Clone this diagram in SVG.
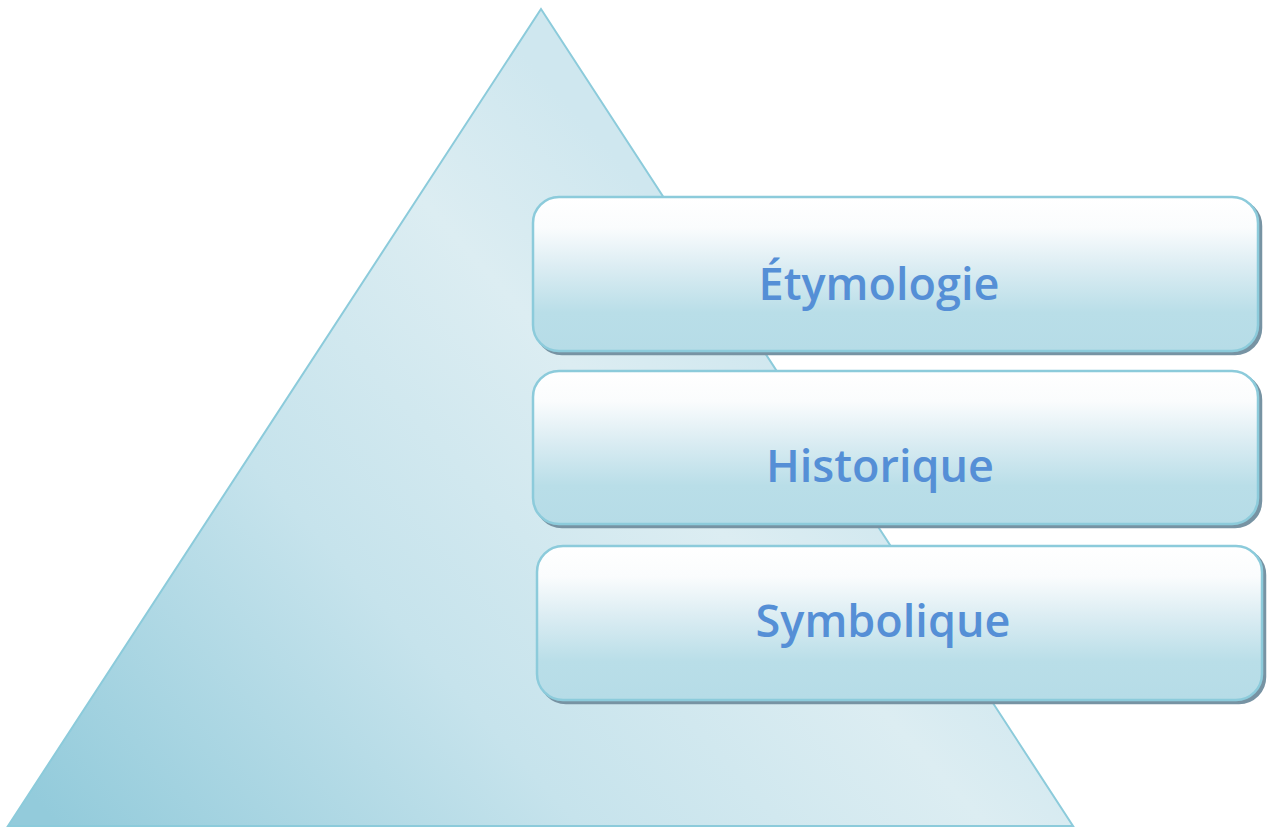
<svg xmlns="http://www.w3.org/2000/svg" width="1269" height="827" viewBox="0 0 1269 827">
<defs>
<linearGradient id="triG" gradientUnits="userSpaceOnUse" x1="60" y1="827" x2="700" y2="250">
<stop offset="0" stop-color="#93cbdb"/>
<stop offset="0.45" stop-color="#c6e3ec"/>
<stop offset="0.8" stop-color="#dcedf2"/>
<stop offset="1" stop-color="#cfe7ef"/>
</linearGradient>
<linearGradient id="boxG" x1="0" y1="0" x2="0" y2="1">
<stop offset="0" stop-color="#ffffff"/>
<stop offset="0.2" stop-color="#fafcfd"/>
<stop offset="0.45" stop-color="#dcedf3"/>
<stop offset="0.75" stop-color="#b9dee8"/>
<stop offset="1" stop-color="#b6dce7"/>
</linearGradient>
<filter id="sh" x="-5%" y="-5%" width="110%" height="115%">
<feOffset dx="3" dy="3" in="SourceAlpha" result="o"/>
<feFlood flood-color="#7793a3"/>
<feComposite in2="o" operator="in"/>
<feMerge><feMergeNode/><feMergeNode in="SourceGraphic"/></feMerge>
</filter>
</defs>
<style>
.box{fill:url(#boxG);stroke:#8ccbdb;stroke-width:2.5}
.lbl{font-family:"Open Sans","Noto Sans","DejaVu Sans",sans-serif;font-weight:600;font-size:45px;fill:#558fd6;text-anchor:middle}
</style>
<g id="pyramid">
<polygon points="541,9 8,826 1073,826" fill="url(#triG)" stroke="#8ccbdb" stroke-width="2"/>
</g>
<g id="connectors"/>
<g id="node-etymologie">
<rect class="box" x="533" y="197" width="725" height="154" rx="26" filter="url(#sh)"/>
<text class="lbl" x="879" y="300">Étymologie</text>
</g>
<g id="node-historique">
<rect class="box" x="533" y="371" width="725" height="153" rx="26" filter="url(#sh)"/>
<text class="lbl" x="880" y="482">Historique</text>
</g>
<g id="node-symbolique">
<rect class="box" x="537" y="546" width="725" height="154" rx="26" filter="url(#sh)"/>
<text class="lbl" x="883" y="637">Symbolique</text>
</g>
</svg>
